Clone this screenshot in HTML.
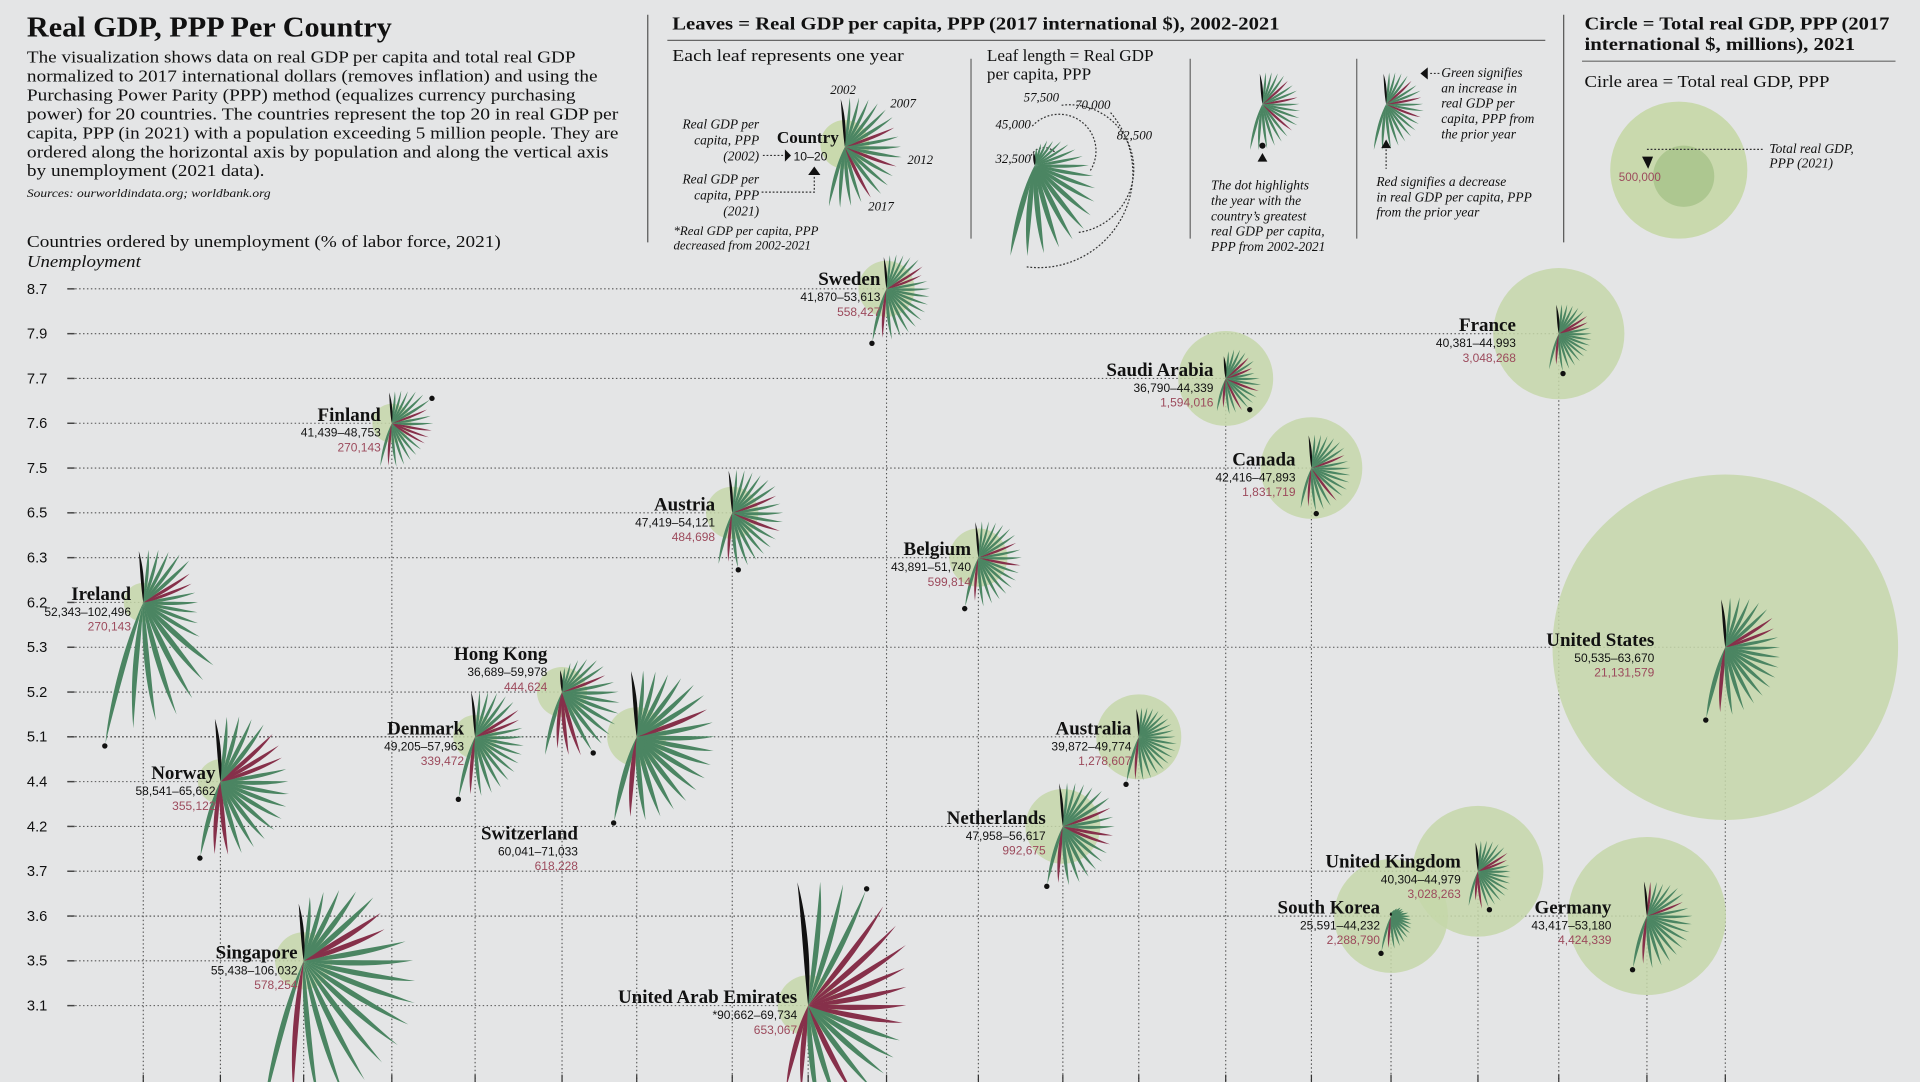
<!DOCTYPE html>
<html><head><meta charset="utf-8"><style>
html,body{margin:0;padding:0;background:#e4e5e6;}
svg{display:block}
.t{font-family:"Liberation Serif",serif;fill:#111}
.s{font-family:"Liberation Sans",sans-serif;fill:#111}
</style></head><body>
<svg id="chart" width="1920" height="1082" viewBox="0 0 1568 884" preserveAspectRatio="none" xmlns="http://www.w3.org/2000/svg">
<rect width="1568" height="884" fill="#e4e5e6"/>
<g id="header">
<text class="t" x="22" y="30" font-size="23" font-weight="bold" textLength="298" lengthAdjust="spacingAndGlyphs">Real GDP, PPP Per Country</text>
<text class="t" font-size="14" lengthAdjust="spacingAndGlyphs">
<tspan x="22" y="51" textLength="448" lengthAdjust="spacingAndGlyphs">The visualization shows data on real GDP per capita and total real GDP</tspan>
<tspan x="22" y="66.5" textLength="466" lengthAdjust="spacingAndGlyphs">normalized to 2017 international dollars (removes inflation) and using the</tspan>
<tspan x="22" y="82" textLength="448" lengthAdjust="spacingAndGlyphs">Purchasing Power Parity (PPP) method (equalizes currency purchasing</tspan>
<tspan x="22" y="97.5" textLength="483" lengthAdjust="spacingAndGlyphs">power) for 20 countries. The countries represent the top 20 in real GDP per</tspan>
<tspan x="22" y="113" textLength="483" lengthAdjust="spacingAndGlyphs">capita, PPP (in 2021) with a population exceeding 5 million people. They are</tspan>
<tspan x="22" y="128.5" textLength="475" lengthAdjust="spacingAndGlyphs">ordered along the horizontal axis by population and along the vertical axis</tspan>
<tspan x="22" y="144" textLength="194" lengthAdjust="spacingAndGlyphs">by unemployment (2021 data).</tspan></text>
<text class="t" x="22" y="161" font-size="9.5" font-style="italic" textLength="199" lengthAdjust="spacingAndGlyphs">Sources: ourworldindata.org; worldbank.org</text>
<text class="t" x="22" y="202" font-size="14" textLength="387" lengthAdjust="spacingAndGlyphs">Countries ordered by unemployment (% of labor force, 2021)</text>
<text class="t" x="22" y="218" font-size="14" font-style="italic" textLength="93" lengthAdjust="spacingAndGlyphs">Unemployment</text>
</g>
<g id="legend">
<line x1="529" y1="12" x2="529" y2="198" stroke="#555" stroke-width="1"/>
<text class="t" x="549" y="24" font-size="15" font-weight="bold" textLength="496" lengthAdjust="spacingAndGlyphs">Leaves = Real GDP per capita, PPP (2017 international $), 2002-2021</text>
<line x1="545" y1="33" x2="1262" y2="33" stroke="#666" stroke-width="1"/>
<line x1="793" y1="48" x2="793" y2="195" stroke="#666"/>
<line x1="972" y1="48" x2="972" y2="195" stroke="#666"/>
<line x1="1108" y1="48" x2="1108" y2="195" stroke="#666"/>
<text class="t" x="549" y="50" font-size="14" textLength="189" lengthAdjust="spacingAndGlyphs">Each leaf represents one year</text>
<circle cx="690" cy="118" r="20" fill="#c9d9ad"/>
<text class="t" x="685" y="117" font-size="14" font-weight="bold" text-anchor="end">Country</text>
<text class="s" x="648" y="131" font-size="10">10–20</text>
<text class="t" font-size="11" font-style="italic" text-anchor="end"><tspan x="620" y="105">Real GDP per</tspan><tspan x="620" y="118">capita, PPP</tspan><tspan x="620" y="131">(2002)</tspan><tspan x="620" y="150">Real GDP per</tspan><tspan x="620" y="163">capita, PPP</tspan><tspan x="620" y="176">(2021)</tspan></text>
<path d="M623,127 L640,127 M622,157 L665,157 L665,140" stroke="#333" stroke-dasharray="1.5,1.5" fill="none"/>
<path d="M641,122 L646,127 L641,132Z M665,136 L660,143 L670,143Z" fill="#111"/>
<text class="t" font-size="10.5" font-style="italic"><tspan x="678" y="77">2002</tspan><tspan x="727" y="88">2007</tspan><tspan x="741" y="134">2012</tspan><tspan x="709" y="172">2017</tspan><tspan x="550" y="192">*Real GDP per capita, PPP</tspan><tspan x="550" y="204">decreased from 2002-2021</tspan></text>
<g id="legend-fan1"></g>
<text class="t" font-size="14"><tspan x="806" y="50">Leaf length = Real GDP</tspan><tspan x="806" y="65">per capita, PPP</tspan></text>
<text class="t" font-size="10.5" font-style="italic"><tspan x="836" y="83">57,500</tspan><tspan x="878" y="89">70,000</tspan><tspan x="813" y="105">45,000</tspan><tspan x="912" y="114">82,500</tspan><tspan x="813" y="133">32,500</tspan></text>
<path d="M841,130 A12,12 0 0 1 862,125 M843,103 A30,30 0 0 1 890,140 M867,86 A50,50 0 0 1 880,190 M907,92 A77,77 0 0 1 838,218" stroke="#333" stroke-dasharray="1.5,1.5" fill="none"/>
<g id="legend-fan2"></g>
<g id="legend-fan3"></g>
<circle cx="1031" cy="119" r="2.5" fill="#111"/>
<path d="M1031,125 L1027,132 L1035,132Z" fill="#111"/>
<text class="t" font-size="11" font-style="italic"><tspan x="989" y="155">The dot highlights</tspan><tspan x="989" y="167.5">the year with the</tspan><tspan x="989" y="180">country’s greatest</tspan><tspan x="989" y="192.5">real GDP per capita,</tspan><tspan x="989" y="205">PPP from 2002-2021</tspan></text>
<g id="legend-fan4"></g>
<path d="M1166,55 L1160,60 L1166,65Z M1132,114 L1128,121 L1136,121Z" fill="#111"/>
<path d="M1168,60 L1176,60 M1132,122 L1132,138" stroke="#333" stroke-dasharray="1.5,1.5"/>
<text class="t" font-size="11" font-style="italic"><tspan x="1177" y="63">Green signifies</tspan><tspan x="1177" y="75.5">an increase in</tspan><tspan x="1177" y="88">real GDP per</tspan><tspan x="1177" y="100.5">capita, PPP from</tspan><tspan x="1177" y="113">the prior year</tspan><tspan x="1124" y="152">Red signifies a decrease</tspan><tspan x="1124" y="164.5">in real GDP per capita, PPP</tspan><tspan x="1124" y="177">from the prior year</tspan></text>
<line x1="1277" y1="12" x2="1277" y2="198" stroke="#555"/>
<text class="t" font-size="15" font-weight="bold"><tspan x="1294" y="24" textLength="249" lengthAdjust="spacingAndGlyphs">Circle = Total real GDP, PPP (2017</tspan><tspan x="1294" y="41" textLength="221" lengthAdjust="spacingAndGlyphs">international $, millions), 2021</tspan></text>
<line x1="1292" y1="50" x2="1548" y2="50" stroke="#666"/>
<text class="t" x="1294" y="71" font-size="14" textLength="200" lengthAdjust="spacingAndGlyphs">Cirle area = Total real GDP, PPP</text>
<circle cx="1371" cy="139" r="56" fill="#c9d9ad"/>
<circle cx="1375" cy="144" r="25" fill="#adc790"/>
<path d="M1345,122 L1440,122" stroke="#333" stroke-dasharray="1.5,1.5"/>
<path d="M1341,128 L1346,138 L1350,128Z" fill="#111"/>
<text class="s" x="1322" y="148" font-size="9.5" style="fill:#9c4a5c">500,000</text>
<text class="t" font-size="11" font-style="italic"><tspan x="1445" y="125">Total real GDP,</tspan><tspan x="1445" y="137">PPP (2021)</tspan></text>
</g>
<g id="plot"></g>
</svg>
<script>
// Data
const countries = ["Ireland","Norway","Singapore","Finland","Denmark","Hong Kong","Switzerland","Austria","Sweden","United Arab Emirates","Belgium","Netherlands","Australia","Saudi Arabia","Canada","South Korea","United Kingdom","France","Germany","United States"];
const unemployment = [6.2,4.4,3.5,7.6,5.1,5.2,5.1,6.5,8.7,3.1,6.3,4.2,5.1,7.7,7.5,3.6,3.7,7.9,3.6,5.3];
const populationRank = [0,1,2,3,4,5,6,7,8,9,10,11,12,13,14,15,16,17,18,19];
const rangeLabels = ["52,343–102,496","58,541–65,662","55,438–106,032","41,439–48,753","49,205–57,963","36,689–59,978","60,041–71,033","47,419–54,121","41,870–53,613","*90,662–69,734","43,891–51,740","47,958–56,617","39,872–49,774","36,790–44,339","42,416–47,893","25,591–44,232","40,304–44,979","40,381–44,993","43,417–53,180","50,535–63,670"];
const totalGDP = [270143,355122,578254,270143,339472,444624,618228,484698,558427,653067,599814,992675,1278607,1594016,1831719,2288790,3028263,3048268,4424339,21131579];
const gdpIreland=[52.3,53,54,55,57,58,54,52.5,53,54,54.2,56,60,75,77,82,87,88,92,102.5];
const gdpNorway=[58.5,59.5,61,62,63,62.5,61.5,60,60.5,61,62,62.3,63,63.4,63.5,64,64.5,64,63.5,65.7];
const gdpSingapore=[55.4,59,63,67,71,75,73,71,80,83,85,88,90,92,93,96,99,100,95,106];
const gdpFinland=[41.4,42,43,44,46,47.5,48.75,45,46,47,46.5,46,45.5,45.8,46.2,47,48,48.3,47.6,48.6];
const gdpDenmark=[49.2,49.5,50,51,52,52.5,52,50,50.5,51,51.2,51.5,52,53,54,55,56,56.5,55.5,58];
const gdpHongKong=[36.7,38,41,44,47,50,51,49.5,53,55,56,57,58,59,59.5,60,59.98,58.5,55,59.5];
const gdpSwitzerland=[60,60.3,61,62,64,66,67,65,66,66.3,66.5,67,67.3,67.5,68,68.3,69,69.5,67.5,71];
const gdpAustria=[47.4,48,48.5,49,50,51,52,50,51,52,52.3,52,52.2,52.4,52.5,53,54,54.1,51,53];
const gdpSweden=[41.9,43,44,45,46,48,47.5,45,47,48,48.1,48.5,49,50,50.5,51,51.3,52,51,53.6];
const gdpUAE=[90.7,91,92,93,91,88,86,80,78,77,76,77,78,79,80,78,79,80,70,69.7];
const gdpBelgium=[43.9,44.3,45,45.8,46.8,47.8,47.9,46.5,47.6,48,47.8,47.9,48.3,48.8,49.2,49.8,50.3,51,48,51.7];
const gdpNetherlands=[48,48.2,49,50,51,53,54,52,52.2,52.5,52,51.8,52.3,53,54,55,56,56.3,55,56.6];
const gdpAustralia=[39.9,40.5,41.2,41.8,42.3,43,43.5,43.6,43.8,44.5,45.5,45.8,46,46.3,46.8,47,47.8,48.2,47.8,49.8];
const gdpSaudi=[36.8,39.5,41,42,42.3,41.5,42.5,40,40.5,43,44,43.8,44.3,44.5,44.6,43.8,43.9,44,40.5,43];
const gdpCanada=[42.4,42.8,43.3,44,44.8,45.5,45.6,43.8,44.8,45.7,45.9,46.5,47,47.1,46.8,47.5,47.9,48,45.5,47];
const gdpKorea=[25.6,26.3,27.5,28.6,30,31.7,32.2,32.3,34.3,35.3,35.8,36.7,37.6,38.5,39.5,40.6,41.6,42.4,42,44.2];
const gdpUK=[40.3,41.2,41.9,42.6,43.2,43.9,43.5,41.6,42,42.3,42.6,43.2,44,44.5,44.7,44.9,45,44.98,40.5,44];
const gdpFrance=[40.4,40.6,41.1,41.5,42.2,42.9,42.7,41.4,41.9,42.5,42.6,42.7,42.9,43.1,43.4,44,44.5,44.99,41.5,44.6];
const gdpGermany=[43.4,43.2,43.8,44.1,45.8,47.2,47.8,45.4,47.3,49.1,49.2,49.3,50.1,50.4,51,52,52.3,52.7,50.4,53.2];
const gdpUS=[50.5,51.3,52.6,53.7,54.6,55,54.4,52.6,53.4,53.9,54.6,55.2,56,57.1,57.5,58.5,59.8,61,59.5,63.7];
const series=[gdpIreland,gdpNorway,gdpSingapore,gdpFinland,gdpDenmark,gdpHongKong,gdpSwitzerland,gdpAustria,gdpSweden,gdpUAE,gdpBelgium,gdpNetherlands,gdpAustralia,gdpSaudi,gdpCanada,gdpKorea,gdpUK,gdpFrance,gdpGermany,gdpUS];
const yTicks=["8.7","7.9","7.7","7.6","7.5","6.5","6.3","6.2","5.3","5.2","5.1","4.4","4.2","3.7","3.6","3.5","3.1"];
const columnX=[117,180,248,320,388,459,520,598,724,660,799,868,930,1001,1071,1136,1207,1273,1345,1409];
const labelOffset=[[-10,-2],[-4,-2],[-5,-2],[-9,-2],[-9,-2],[-12,-26],[-48,84],[-14,-2],[-5,-3],[-9,-2],[-6,-2],[-14,-2],[-6,-2],[-10,-2],[-13,-2],[-9,-2],[-14,-3],[-35,-2],[-29,-2],[-58,-1]];

const NS="http://www.w3.org/2000/svg";
const plot=document.getElementById('plot');
function yScale(v){const i=yTicks.indexOf(v.toFixed(1));return 236+i*36.6;}
function lenScale(v){return Math.max(3,(v*1000-25000)*0.00154);}
function rScale(v){return Math.sqrt(v)*0.0307;}
function el(tag,attrs,parent){const e=document.createElementNS(NS,tag);for(const k in attrs)e.setAttribute(k,attrs[k]);parent.appendChild(e);return e;}

function drawFan(g,ox,oy,vals,scale){
  const n=vals.length;let maxI=0;
  vals.forEach((v,i)=>{if(v>vals[maxI])maxI=i;});
  let tip=null;
  for(let i=n-1;i>=0;i--){
    const v=vals[i];const L=lenScale(v)*scale;
    const a=-95+i*(200/(n-1));
    const w=Math.min(3.1,Math.max(1.3,L*0.042));
    const col=i===0?'#111':(v>=vals[i-1]?'#4b8562':'#86304a');
    const b=L*0.03;
    const leaf=el('path',{d:`M0,0 C${L*0.3},${-w*1.2+b} ${L*0.7},${-w*0.8+b} ${L},0 C${L*0.7},${w*0.8+b} ${L*0.3},${w*0.9+b} 0,0Z`,fill:col,transform:`translate(${ox},${oy}) rotate(${a})`},g);
    
    
    if(i===maxI){const r=a*Math.PI/180;tip=[ox+Math.cos(r)*(L+2),oy+Math.sin(r)*(L+2)];}
  }
  return tip;
}

// gridlines
const grid=el('g',{},plot);
countries.forEach((c,k)=>{
  const x=columnX[populationRank[k]],y=yScale(unemployment[k]);
  el('path',{d:`M55,${y}H${x}M${x},${y}V884`,stroke:'#555','stroke-width':0.9,'stroke-dasharray':'1.2,2',fill:'none'},grid);
  el('path',{d:`M${x},878V884`,stroke:'#333','stroke-width':1},grid);
});
yTicks.forEach(t=>{
  const y=yScale(parseFloat(t));
  const tx=el('text',{x:22,y:y+4,'font-size':12,class:'s'},grid);tx.textContent=t;
  
  
  el('path',{d:`M55,${y}H61`,stroke:'#444','stroke-width':1.2},grid);
});
// bubbles
countries.forEach((c,k)=>{
  const x=columnX[populationRank[k]],y=yScale(unemployment[k]);
  const b=el('circle',{cx:x,cy:y,r:rScale(totalGDP[k]),fill:'#c6d7a9','fill-opacity':0.85},plot);
  
  
});
// fans and labels
countries.forEach((c,k)=>{
  const x=columnX[populationRank[k]],y=yScale(unemployment[k]);
  const g=el('g',{},plot);
  
  
  const tip=drawFan(g,x,y,series[k],1);
  el('circle',{cx:tip[0],cy:tip[1],r:2.2,fill:'#111'},g);
  const lx=x+labelOffset[k][0],ly=y+labelOffset[k][1];
  const n=el('text',{x:lx,y:ly,'text-anchor':'end','font-size':15.5,'font-weight':'bold',class:'t'},g);n.textContent=c;
  
  
  const r=el('text',{x:lx,y:ly+13,'text-anchor':'end','font-size':9.8,class:'s'},g);r.textContent=rangeLabels[k];
  
  
  const t=el('text',{x:lx,y:ly+25,'text-anchor':'end','font-size':9.8,class:'s',style:'fill:#9c4a5c'},g);t.textContent=totalGDP[k].toLocaleString('en-US');
  
  
});
// legend fans
drawFan(document.getElementById('legend-fan1'),690,120,[55,56,57,58,59,59.5,60,58,59,60,61,59.5,60,61,62,60.5,61,62,63,63.5],0.85);
drawFan(document.getElementById('legend-fan2'),845,135,[35,38,42,46,48,52,55,58,62,66,70,74,78,82,86,88,90,92,94,96],0.7);
drawFan(document.getElementById('legend-fan3'),1031,85,[48,49,50,51,52,51,52,53,52,53,54,55,56,55,56,57,58,59,60,61],0.7);
drawFan(document.getElementById('legend-fan4'),1132,85,[48,49,50,51,52,51,52,53,52,53,54,53,54,55,56,57,58,59,60,61],0.7);
</script>
</body></html>
